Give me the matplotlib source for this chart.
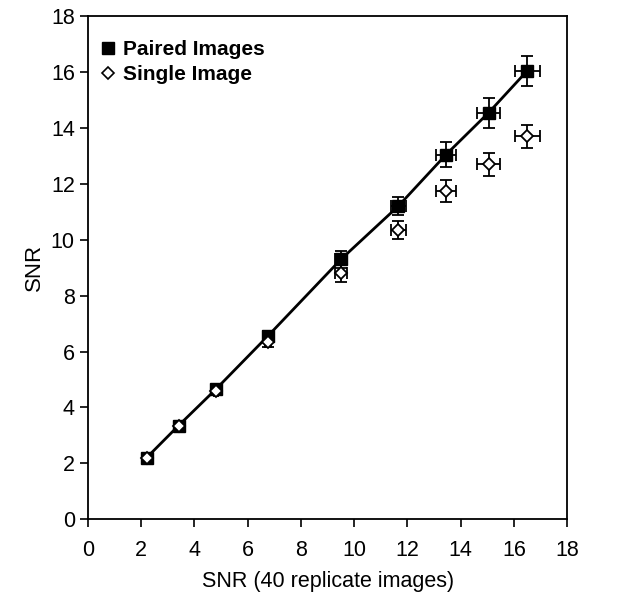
import matplotlib
matplotlib.use("Agg")
import matplotlib.pyplot as plt
from matplotlib.lines import Line2D

plt.rcParams["font.family"] = ["Liberation Sans", "DejaVu Sans"]

# SNR from 40 replicate images (x) and estimates from paired / single images (y)
snr_ref = [2.2, 3.4, 4.8, 6.75, 9.5, 11.65, 13.45, 15.05, 16.5]
snr_ref_err = [0.05, 0.05, 0.08, 0.12, 0.22, 0.28, 0.38, 0.42, 0.46]

paired = [2.2, 3.35, 4.65, 6.55, 9.3, 11.2, 13.05, 14.55, 16.05]
paired_err = [0.08, 0.08, 0.1, 0.18, 0.3, 0.32, 0.44, 0.54, 0.54]

single = [2.2, 3.33, 4.6, 6.35, 8.8, 10.35, 11.75, 12.7, 13.7]
single_err = [0.08, 0.08, 0.1, 0.2, 0.3, 0.33, 0.38, 0.4, 0.42]

fig = plt.figure(figsize=(6.24, 6.01), dpi=100)
ax = fig.add_axes([0.141, 0.136, 0.768, 0.837])

# line through the paired-image points
ax.plot(snr_ref, paired, color="black", lw=2, zorder=2)

ax.errorbar(snr_ref, paired, xerr=snr_ref_err, yerr=paired_err, fmt="s",
            ms=9, mfc="black", mec="black", ecolor="black",
            elinewidth=1.3, capsize=4, capthick=1.3, zorder=3,
            label="Paired Images")
ax.errorbar(snr_ref, single, xerr=snr_ref_err, yerr=single_err, fmt="D",
            ms=6.5, mfc="white", mec="black", mew=1.3, ecolor="black",
            elinewidth=1.3, capsize=4, capthick=1.3, zorder=4,
            label="Single Image")

ax.set_xlim(0, 18)
ax.set_ylim(0, 18)
ax.set_xticks(range(0, 19, 2))
ax.set_yticks(range(0, 19, 2))
ax.tick_params(direction="out", length=6, width=1.2, labelsize=15.5,
               top=False, right=False)
ax.tick_params(axis="x", pad=9)
for s in ax.spines.values():
    s.set_linewidth(1.3)

ax.set_xlabel("SNR (40 replicate images)", fontsize=15.5, labelpad=7)
ax.set_ylabel("SNR", fontsize=16, labelpad=4)

h = [Line2D([], [], marker="s", ls="", ms=8.5, mfc="black", mec="black"),
     Line2D([], [], marker="D", ls="", ms=6, mfc="white", mec="black", mew=1.2)]
ax.legend(h, ["Paired Images", "Single Image"], loc="upper left",
          bbox_to_anchor=(-0.01, 0.99), frameon=False, handlelength=0.6,
          handletextpad=0.4, labelspacing=0.3,
          prop={"size": 15, "weight": "bold"})

fig.savefig("out.png", dpi=100)
